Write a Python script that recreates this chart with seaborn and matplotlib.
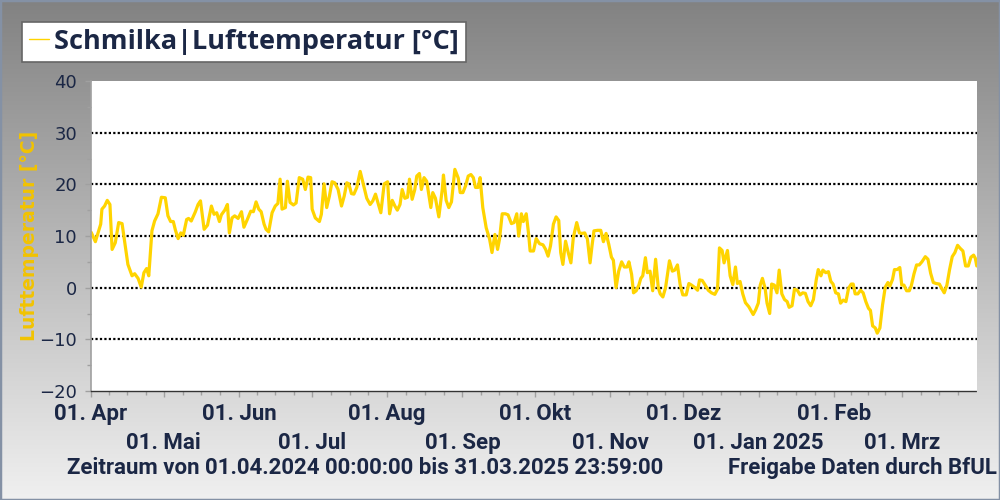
import numpy as np
import pandas as pd
import matplotlib
matplotlib.use("Agg")
import matplotlib.pyplot as plt
import matplotlib.dates as mdates
from matplotlib.ticker import MultipleLocator, FixedLocator
from matplotlib.lines import Line2D
from matplotlib.patches import Rectangle
from matplotlib.colors import LinearSegmentedColormap
import seaborn as sns

# ---------------- data ----------------
start_date = "2024-04-01"
end_date = "2025-04-01"

day_offset = [
    0.1, 1.8, 4.0, 4.5, 5.6, 6.7, 7.8, 8.7, 10.0, 11.4, 12.8, 14.1, 15.2, 16.9, 18.0, 19.4, 20.7, 21.8, 22.9, 23.8,
    25.1, 26.2, 27.6, 29.0, 30.6, 31.7, 32.8, 33.9, 34.8, 35.9, 37.0, 38.0, 39.4, 40.2, 41.3, 43.0, 44.1, 45.1,
    46.6, 48.0, 49.6, 50.7, 51.8, 52.9, 53.7, 55.1, 56.2, 57.0, 58.1, 59.2, 60.6, 62.0, 63.0, 64.4, 65.8, 66.9,
    68.0, 69.1, 70.1, 71.3, 72.1, 73.2, 74.6, 75.9, 77.0, 77.9, 78.7, 80.1, 80.9, 82.0, 83.4, 84.5, 85.8, 87.2,
    88.3, 89.4, 90.5,
    91.1, 92.4, 94.1, 94.9, 96.0, 97.1, 98.2, 99.3, 100.4, 101.8, 103.2, 104.3, 105.4, 106.2, 107.3, 108.3,
    109.5, 110.9, 112.2, 113.6, 115.0, 116.1, 117.2, 118.3, 119.4, 120.8, 122.2, 123.0, 124.1, 125.2, 126.2,
    127.3, 128.2, 129.3, 130.4, 131.2, 132.3, 133.4, 134.2, 135.3,
    136.1, 137.2, 138.3, 140.0, 140.8, 141.9, 143.3, 144.7, 145.2, 146.3, 147.4, 148.5, 149.9, 151.3, 152.1,
    153.2, 154.3, 155.4, 156.5, 157.5, 158.4, 159.5, 160.3, 161.4, 162.8, 164.2, 165.2, 166.4, 167.5, 168.3,
    169.4, 170.7, 171.8, 173.2, 174.3, 175.4, 176.2, 177.3, 178.1, 179.3, 180.3,
    180.9, 182.3, 183.4, 184.8, 186.2, 187.3, 188.3, 189.3, 190.5, 191.6, 192.7, 193.5, 194.4, 195.5, 196.6,
    197.7, 198.7, 200.1, 201.2, 202.3, 203.4, 204.5, 205.6, 206.4, 207.2, 208.7, 210.0, 211.1, 212.2, 213.3,
    214.4, 215.2, 216.3, 217.4, 218.6, 219.7, 220.8, 221.6, 222.7, 223.5, 224.6, 225.7,
    226.5, 227.3, 228.4, 229.2, 230.3, 231.4, 232.6, 233.7, 234.5, 235.6, 236.7, 238.3, 239.5, 240.5, 241.6,
    242.7, 243.8, 245.2, 246.3, 247.4, 248.8, 249.9, 250.7, 251.8, 252.9, 254.3, 255.6, 257.0, 258.1, 258.9,
    260.0, 260.8, 262.2, 263.3, 264.4, 265.5, 266.3, 267.4, 268.5, 269.6, 271.0, 272.1, 272.8,
    273.8, 274.9, 275.7, 276.6, 277.7, 278.5, 279.6, 280.4, 281.5, 282.6, 283.5, 284.6, 285.7, 286.8, 287.6,
    288.8, 289.8, 291.0, 292.1, 293.2, 294.3, 295.4, 296.5, 297.6, 298.8, 299.6, 300.7, 301.5, 302.7, 303.8,
    304.8, 305.7, 306.8, 307.9, 308.8, 309.9, 311.0, 312.1, 313.2, 314.0, 314.8, 315.9, 317.0, 318.1, 319.2,
    320.3, 321.1, 322.0, 323.1, 323.9, 325.0, 326.1, 327.2, 328.3, 329.1, 330.2, 331.0, 332.1, 333.2, 334.0,
    334.9, 336.0, 337.1, 337.9, 339.0, 340.1, 341.2, 342.3, 343.7, 344.8, 345.9, 347.0, 348.2, 349.5, 350.4,
    351.5, 352.6, 353.7, 354.8, 355.9, 357.0, 358.1, 359.2, 360.3, 361.4, 362.5, 363.6, 364.3, 364.9,
]

temperature = [
    10.7, 8.9, 12.3, 15.2, 15.8, 16.9, 16.1, 7.4, 8.7, 12.6, 12.4, 8.1, 4.5, 2.3, 2.7, 1.8, 0.1, 2.9, 3.7, 2.3,
    11.0, 12.9, 14.3, 17.5, 17.4, 13.9, 12.8, 12.8, 11.1, 9.5, 10.6, 10.1, 13.2, 13.4, 12.9, 14.7, 16.1, 16.8,
    11.3, 12.1, 15.8, 14.2, 14.5, 12.8, 14.1, 15.0, 16.1, 10.6, 13.5, 13.9, 13.4, 14.7, 11.7, 13.2, 14.8, 14.7,
    16.6, 15.2, 14.7, 12.3, 11.3, 10.8, 14.5, 15.8, 16.3, 21.0, 15.2, 15.5, 20.6, 16.5, 16.0, 16.4, 21.3, 21.0,
    19.0, 21.4, 21.3,
    15.2, 13.5, 12.8, 14.2, 20.1, 15.5, 17.7, 20.5, 20.3, 19.0, 15.8, 17.7, 20.3, 20.1, 18.2, 18.1,
    19.4, 22.5, 20.0, 17.3, 16.1, 16.8, 18.1, 16.3, 14.5, 20.1, 20.5, 14.3, 16.9, 15.8, 15.0,
    16.1, 19.0, 17.3, 17.5, 21.0, 17.1, 19.0, 21.6, 22.1,
    19.0, 21.3, 20.6, 15.5, 18.4, 17.3, 13.7, 19.0, 21.8, 16.9, 15.5, 16.6, 22.9, 21.2, 18.4,
    18.4, 19.7, 21.6, 21.9, 21.3, 19.4, 19.4, 21.3, 15.5, 11.6, 9.4, 6.8, 10.3, 7.4, 9.4,
    14.3, 14.3, 14.1, 12.4, 12.6, 14.3, 10.0, 14.3, 12.8, 14.3, 10.3,
    7.1, 7.1, 9.5, 8.5, 8.3, 7.4, 6.1, 8.1, 12.3, 13.7, 13.0, 6.8, 4.5, 9.0, 6.8,
    4.8, 9.7, 12.6, 10.6, 10.5, 10.6, 9.4, 4.8, 8.1, 11.0, 11.1, 11.1, 8.9, 10.5, 8.4,
    5.9, 5.3, 0.0, 3.2, 5.0, 4.0, 4.0, 5.0, 2.6, -1.0, -0.6, 0.5,
    1.8, 2.3, 5.8, 2.9, 3.2, -0.6, 5.5, 0.0, -1.2, -1.8, 0.0, 5.2, 3.2, 3.4, 4.4,
    0.6, -1.4, -1.4, 0.8, 0.5, 0.0, -0.5, 1.5, 1.4, 0.6, -0.5, -1.0, -1.3, -0.3, 7.7,
    7.2, 4.8, 7.2, 2.3, 0.6, 4.0, 0.8, 1.2, -1.2, -2.9, -3.7, -4.6, -5.2,
    -4.3, -3.0, 0.5, 1.8, -0.1, -3.0, -5.0, 0.7, 0.5, -1.0, 3.4, -1.2, -2.3, -2.7, -3.8,
    -3.5, -0.3, -0.5, -1.4, -1.0, -1.1, -2.7, -3.5, -2.3, 1.6, 3.5, 2.3, 3.4, 2.9, 3.1,
    1.2, 0.7, -1.0, -1.2, -3.0, -2.4, -2.7, -0.1, 0.7, 0.7, -1.2, -1.2, -0.5, -1.0, -2.7,
    -4.0, -4.4, -7.4, -7.8, -8.8, -7.8, -3.3, 0.1, 1.0, 0.3, 1.6, 3.5, 3.5, 3.9, 0.5,
    0.5, -0.6, -0.6, 0.3, 2.6, 4.4, 4.4, 5.0, 6.0, 5.5, 2.8, 1.0, 0.8, 0.7, -0.1,
    -1.0, 0.5, 3.5, 6.0, 6.8, 8.2, 7.6, 7.1, 4.2, 4.2, 5.9, 6.3, 5.7, 4.2,
]

month_labels = ["01. Apr", "01. Mai", "01. Jun", "01. Jul", "01. Aug", "01. Sep",
                "01. Okt", "01. Nov", "01. Dez", "01. Jan 2025", "01. Feb", "01. Mrz"]
y_ticks = [-20, -10, 0, 10, 20, 30, 40]

title_text = "Schmilka|Lufttemperatur [°C]"
y_label = "Lufttemperatur [°C]"
footer_left = "Zeitraum von 01.04.2024 00:00:00 bis 31.03.2025 23:59:00"
footer_right = "Freigabe Daten durch BfUL"

# ---------------- style ----------------
LINE = "#FFD400"
YLAB = "#F2C300"
NAVY = "#1B2745"
NARROW = ["Roboto", "DejaVu Sans"]
TICKC = "#A0A0A0"

sns.set_style("white")
plt.rcParams["font.family"] = ["DejaVu Sans"]

fig = plt.figure(figsize=(10, 5), dpi=100)

# gradient background
bg = fig.add_axes([0, 0, 1, 1], zorder=-10)
grad = np.linspace(0, 1, 256).reshape(-1, 1)
cmap = LinearSegmentedColormap.from_list("g", ["#828282", "#F0F0F0"])
bg.imshow(grad, aspect="auto", cmap=cmap, extent=[0, 1, 0, 1], origin="upper")
bg.set_axis_off()

ax = fig.add_axes([0.091, 0.218, 0.886, 0.62])
ax.set_facecolor("white")

start = pd.Timestamp(start_date)
df = pd.DataFrame({
    "date": start + pd.to_timedelta(day_offset, unit="D"),
    "temp": temperature,
})
sns.lineplot(data=df, x="date", y="temp", ax=ax, color=LINE, linewidth=2.3, legend=False)

ax.set_xlim(start, pd.Timestamp(end_date))
ax.set_ylim(min(y_ticks), max(y_ticks))

# y axis
ax.set_yticks(y_ticks)
ax.yaxis.set_minor_locator(MultipleLocator(5))
ax.tick_params(axis="y", which="major", labelsize=13, colors=TICKC,
               length=4, width=1, pad=6, left=True)
ax.tick_params(axis="y", which="minor", colors=TICKC, length=3, width=1, left=True)
for t in ax.get_yticklabels():
    t.set_color(NAVY)

ax.yaxis.grid(True, which="major", color="black", linestyle=(0, (1, 1)), linewidth=1.6)
glines = ax.get_ygridlines()
glines[-1].set_visible(False)
glines[0].set_visible(False)
ax.xaxis.grid(False)

ax.set_ylabel(y_label, color=YLAB, fontsize=13.5, fontweight="bold")
ax.yaxis.set_label_coords(-0.0587, 0.5)
ax.set_xlabel("")

# x axis: month ticks, minor ticks at quarter months
month_edges = pd.date_range(start_date, end_date, freq="MS")
month_starts = month_edges[:-1]
ax.set_xticks(month_starts)
ax.set_xticklabels(month_labels)
edge_num = mdates.date2num(month_edges)
quarter_pos = []
for a, b in zip(edge_num[:-1], edge_num[1:]):
    quarter_pos.extend(np.linspace(a, b, 5)[1:4])
ax.xaxis.set_minor_locator(FixedLocator(quarter_pos))
ax.tick_params(axis="x", which="major", colors=TICKC, length=4.5, width=1, bottom=True)
ax.tick_params(axis="x", which="minor", colors=TICKC, length=3, width=1, bottom=True)
for i, (tick, lab) in enumerate(zip(ax.xaxis.get_major_ticks(), ax.get_xticklabels())):
    lab.set_color(NAVY)
    lab.set_fontweight("bold")
    lab.set_fontsize(16)
    lab.set_family(NARROW)
    tick.set_pad(4 if i % 2 == 0 else 25)

for s in ["top", "right"]:
    ax.spines[s].set_visible(False)
ax.spines["left"].set_color(TICKC)
ax.spines["left"].set_linewidth(1.2)
ax.spines["bottom"].set_color("#333333")
ax.spines["bottom"].set_linestyle((0, (1, 1)))
ax.spines["bottom"].set_linewidth(1)

# title box as legend
handle = Line2D([], [], color=LINE, linewidth=1)
leg = fig.legend([handle], [title_text], loc="upper left", bbox_to_anchor=(0.022, 0.956),
                 bbox_transform=fig.transFigure, frameon=True, fancybox=False,
                 edgecolor="#666666", framealpha=1, handlelength=0.75, handletextpad=0.2,
                 borderpad=0.25, borderaxespad=0,
                 prop={"weight": "bold", "size": 19.5, "family": ["Open Sans", "DejaVu Sans"]})
for t in leg.get_texts():
    t.set_color(NAVY)
leg.get_frame().set_linewidth(1.2)

# footer
fig.text(0.067, 0.064, footer_left, ha="left", va="center", fontsize=16,
         fontweight="bold", family=NARROW, color=NAVY)
fig.text(0.997, 0.064, footer_right, ha="right", va="center", fontsize=16,
         fontweight="bold", family=NARROW, color=NAVY)

fig.add_artist(Rectangle((0, 0), 1, 1, transform=fig.transFigure, fill=False,
                         edgecolor="#8491A5", linewidth=2.5))

fig.savefig("out.png", dpi=100)
